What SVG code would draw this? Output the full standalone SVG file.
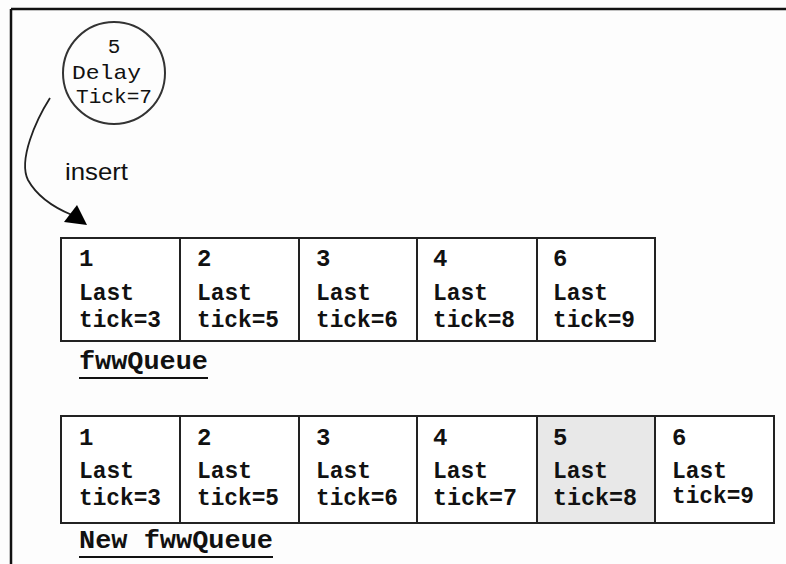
<svg xmlns="http://www.w3.org/2000/svg" width="786" height="564" viewBox="0 0 786 564">
<style>
.cell{fill:#fff;stroke:#222;stroke-width:2}
.hl{fill:#e8e8e8}
.t{font-family:"Liberation Mono","Courier New",monospace;font-weight:bold;font-size:24px;fill:#111}
.c{font-family:"Liberation Mono","Courier New",monospace;font-size:21px;fill:#111}
.lbl{font-family:"Liberation Mono","Courier New",monospace;font-weight:bold;font-size:25px;fill:#111}
.ul{stroke:#111;stroke-width:2}
.s{font-family:"Liberation Sans",Arial,sans-serif;font-size:24px;fill:#111}
</style>
<rect width="786" height="564" fill="#fdfdfd"/>
<g id="frame">
<line x1="11" y1="9" x2="786" y2="9" stroke="#111" stroke-width="2.5"/>
<line x1="11" y1="9" x2="11" y2="564" stroke="#111" stroke-width="2.5"/>
</g>
<g id="node-new-item">
<circle cx="114" cy="73" r="51" fill="none" stroke="#333" stroke-width="2"/>
<text class="c" x="114" y="53" text-anchor="middle">5</text>
<text class="c" x="72" y="79" textLength="69" lengthAdjust="spacingAndGlyphs">Delay</text>
<text class="c" x="76" y="103" textLength="76" lengthAdjust="spacingAndGlyphs">Tick=7</text>
</g>
<g id="connectors">
<path d="M50,98 C36,120 18,160 28,180 C38,198 55,208 72,215" fill="none" stroke="#222" stroke-width="1.8"/>
<polygon points="87,225 64,222 77,205" fill="#000"/>
<text class="s" x="65" y="180" textLength="63" lengthAdjust="spacingAndGlyphs">insert</text>
</g>
<g id="fwwQueue">
<g id="q1-cell1"><rect class="cell" x="61" y="238" width="119" height="103"/>
<text class="t" x="79" y="266">1</text><text class="t" x="79" y="300" textLength="55" lengthAdjust="spacingAndGlyphs">Last</text><text class="t" x="79" y="327" textLength="82" lengthAdjust="spacingAndGlyphs">tick=3</text></g>
<g id="q1-cell2"><rect class="cell" x="180" y="238" width="119" height="103"/>
<text class="t" x="197" y="266">2</text><text class="t" x="197" y="300" textLength="55" lengthAdjust="spacingAndGlyphs">Last</text><text class="t" x="197" y="327" textLength="82" lengthAdjust="spacingAndGlyphs">tick=5</text></g>
<g id="q1-cell3"><rect class="cell" x="299" y="238" width="118" height="103"/>
<text class="t" x="316" y="266">3</text><text class="t" x="316" y="300" textLength="55" lengthAdjust="spacingAndGlyphs">Last</text><text class="t" x="316" y="327" textLength="82" lengthAdjust="spacingAndGlyphs">tick=6</text></g>
<g id="q1-cell4"><rect class="cell" x="417" y="238" width="120" height="103"/>
<text class="t" x="433" y="266">4</text><text class="t" x="433" y="300" textLength="55" lengthAdjust="spacingAndGlyphs">Last</text><text class="t" x="433" y="327" textLength="82" lengthAdjust="spacingAndGlyphs">tick=8</text></g>
<g id="q1-cell5"><rect class="cell" x="537" y="238" width="118" height="103"/>
<text class="t" x="553" y="266">6</text><text class="t" x="553" y="300" textLength="55" lengthAdjust="spacingAndGlyphs">Last</text><text class="t" x="553" y="327" textLength="82" lengthAdjust="spacingAndGlyphs">tick=9</text></g>
<text class="lbl" x="79" y="369" textLength="129" lengthAdjust="spacingAndGlyphs">fwwQueue</text>
<line class="ul" x1="79" y1="378" x2="208" y2="378"/>
</g>
<g id="newFwwQueue">
<g id="q2-cell1"><rect class="cell" x="61" y="416" width="119" height="107"/>
<text class="t" x="79" y="445">1</text><text class="t" x="79" y="478" textLength="55" lengthAdjust="spacingAndGlyphs">Last</text><text class="t" x="79" y="505" textLength="82" lengthAdjust="spacingAndGlyphs">tick=3</text></g>
<g id="q2-cell2"><rect class="cell" x="180" y="416" width="119" height="107"/>
<text class="t" x="197" y="445">2</text><text class="t" x="197" y="478" textLength="55" lengthAdjust="spacingAndGlyphs">Last</text><text class="t" x="197" y="505" textLength="82" lengthAdjust="spacingAndGlyphs">tick=5</text></g>
<g id="q2-cell3"><rect class="cell" x="299" y="416" width="118" height="107"/>
<text class="t" x="316" y="445">3</text><text class="t" x="316" y="478" textLength="55" lengthAdjust="spacingAndGlyphs">Last</text><text class="t" x="316" y="505" textLength="82" lengthAdjust="spacingAndGlyphs">tick=6</text></g>
<g id="q2-cell4"><rect class="cell" x="417" y="416" width="120" height="107"/>
<text class="t" x="433" y="445">4</text><text class="t" x="433" y="478" textLength="55" lengthAdjust="spacingAndGlyphs">Last</text><text class="t" x="433" y="505" textLength="84" lengthAdjust="spacingAndGlyphs">tick=7</text></g>
<g id="q2-cell5"><rect class="cell hl" x="537" y="416" width="118" height="107"/>
<text class="t" x="553" y="445">5</text><text class="t" x="553" y="478" textLength="55" lengthAdjust="spacingAndGlyphs">Last</text><text class="t" x="553" y="505" textLength="84" lengthAdjust="spacingAndGlyphs">tick=8</text></g>
<g id="q2-cell6"><rect class="cell" x="655" y="416" width="119" height="107"/>
<text class="t" x="672" y="445">6</text><text class="t" x="672" y="478" textLength="55" lengthAdjust="spacingAndGlyphs">Last</text><text class="t" x="672" y="503" textLength="82" lengthAdjust="spacingAndGlyphs">tick=9</text></g>
<text class="lbl" x="79" y="548" textLength="194" lengthAdjust="spacingAndGlyphs">New fwwQueue</text>
<line class="ul" x1="79" y1="557" x2="273" y2="557"/>
</g>
</svg>
